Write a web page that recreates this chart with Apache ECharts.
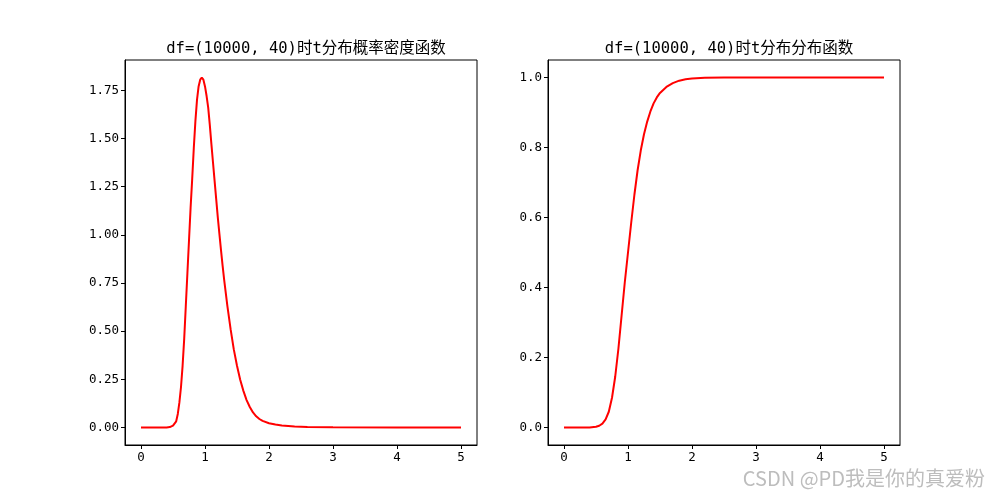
<!DOCTYPE html>
<html>
<head>
<meta charset="utf-8">
<script src="https://cdn.jsdelivr.net/npm/echarts@6/dist/echarts.min.js"></script>
<style>
html,body{margin:0;padding:0;background:#fff;}
#chart{width:1000px;height:500px;}
</style>
</head>
<body>
<div id="chart"></div>
<script>
// ---- data ----
const pdfTitle = 'df=(10000, 40)时t分布概率密度函数';
const cdfTitle = 'df=(10000, 40)时t分布分布函数';
const watermark = 'CSDN @PD我是你的真爱粉';

const pdfX = [0, 0.2, 0.4, 0.45, 0.5, 0.525, 0.55, 0.575, 0.6, 0.625, 0.65, 0.675, 0.7, 0.725, 0.75, 0.775, 0.8, 0.825, 0.85, 0.875, 0.9, 0.925, 0.95, 0.975, 1.0, 1.025, 1.05, 1.075, 1.1, 1.125, 1.15, 1.175, 1.2, 1.225, 1.25, 1.275, 1.3, 1.35, 1.4, 1.45, 1.5, 1.55, 1.6, 1.65, 1.7, 1.75, 1.8, 1.85, 1.9, 2.0, 2.1, 2.2, 2.4, 2.6, 3.0, 4.0, 5.0];
const pdfY = [0, 0, 0, 0.002, 0.01, 0.018, 0.032, 0.07, 0.13, 0.21, 0.32, 0.46, 0.63, 0.80, 0.97, 1.14, 1.29, 1.45, 1.59, 1.70, 1.77, 1.805, 1.816, 1.805, 1.77, 1.72, 1.66, 1.57, 1.47, 1.375, 1.28, 1.185, 1.09, 1.005, 0.92, 0.84, 0.765, 0.63, 0.51, 0.405, 0.32, 0.248, 0.19, 0.142, 0.106, 0.078, 0.058, 0.044, 0.034, 0.022, 0.015, 0.010, 0.005, 0.002, 0.0005, 0, 0];

const cdfX = [0, 0.4, 0.5, 0.55, 0.6, 0.65, 0.7, 0.75, 0.8, 0.85, 0.9, 0.95, 1.0, 1.05, 1.1, 1.15, 1.2, 1.25, 1.3, 1.35, 1.4, 1.45, 1.5, 1.6, 1.7, 1.8, 1.9, 2.0, 2.2, 2.5, 5.0];
const cdfY = [0, 0, 0.002, 0.005, 0.011, 0.023, 0.045, 0.085, 0.145, 0.225, 0.32, 0.415, 0.5, 0.585, 0.665, 0.735, 0.792, 0.838, 0.874, 0.903, 0.926, 0.943, 0.956, 0.973, 0.984, 0.991, 0.995, 0.997, 0.999, 1.0, 1.0];

const xTicks = [0, 1, 2, 3, 4, 5];
const pdfYTicks = [0, 0.25, 0.5, 0.75, 1.0, 1.25, 1.5, 1.75];
const cdfYTicks = [0, 0.2, 0.4, 0.6, 0.8, 1.0];

// ---- chart ----
const FONT = '"DejaVu Sans Mono", "Noto Sans CJK SC", monospace';
const toPairs = (xs, ys) => xs.map((x, i) => [x, ys[i]]);

function xAxisFor(gi) {
  return {
    type: 'value', gridIndex: gi, min: -0.25, max: 5.25, position: 'bottom',
    axisLine: { show: true, onZero: false, lineStyle: { color: '#000', width: 1 } },
    splitLine: { show: false },
    axisTick: { show: true, customValues: xTicks, length: 4, inside: false, lineStyle: { color: '#000', width: 1 } },
    axisLabel: { customValues: xTicks, color: '#000', fontSize: 12.5, fontFamily: FONT, margin: 6, formatter: v => String(v) }
  };
}
function yAxisFor(gi, min, max, ticks, dec) {
  return {
    type: 'value', gridIndex: gi, min: min, max: max, position: 'left',
    axisLine: { show: true, onZero: false, lineStyle: { color: '#000', width: 1 } },
    splitLine: { show: false },
    axisTick: { show: true, customValues: ticks, length: 4, inside: false, lineStyle: { color: '#000', width: 1 } },
    axisLabel: { customValues: ticks, color: '#000', fontSize: 12.5, fontFamily: FONT, margin: 6, formatter: v => Number(v).toFixed(dec) }
  };
}

const chart = echarts.init(document.getElementById('chart'), null, { renderer: 'canvas' });
chart.setOption({
  animation: false,
  backgroundColor: '#fff',
  title: [
    { text: pdfTitle, left: 301, top: 36, textAlign: 'center', textStyle: { fontSize: 15.5, fontWeight: 'normal', color: '#000', fontFamily: FONT } },
    { text: cdfTitle, left: 724, top: 36, textAlign: 'center', textStyle: { fontSize: 15.5, fontWeight: 'normal', color: '#000', fontFamily: FONT } }
  ],
  grid: [
    { left: 125, right: 523, top: 60, bottom: 55, show: true, borderColor: '#000', borderWidth: 1, backgroundColor: 'transparent' },
    { left: 548, right: 100, top: 60, bottom: 55, show: true, borderColor: '#000', borderWidth: 1, backgroundColor: 'transparent' }
  ],
  xAxis: [xAxisFor(0), xAxisFor(1)],
  yAxis: [
    yAxisFor(0, -0.091, 1.907, pdfYTicks, 2),
    yAxisFor(1, -0.05, 1.05, cdfYTicks, 1)
  ],
  series: [
    { type: 'line', xAxisIndex: 0, yAxisIndex: 0, data: toPairs(pdfX, pdfY), showSymbol: false, smooth: false, lineStyle: { color: '#ff0000', width: 2 }, itemStyle: { color: '#ff0000' } },
    { type: 'line', xAxisIndex: 1, yAxisIndex: 1, data: toPairs(cdfX, cdfY), showSymbol: false, smooth: false, lineStyle: { color: '#ff0000', width: 2 }, itemStyle: { color: '#ff0000' } }
  ],
  graphic: [
    { type: 'text', right: 15, top: 468, style: { text: watermark, fill: '#bdbdbd', font: '20px "Noto Sans CJK SC", sans-serif' } }
  ]
});
</script>
</body>
</html>
